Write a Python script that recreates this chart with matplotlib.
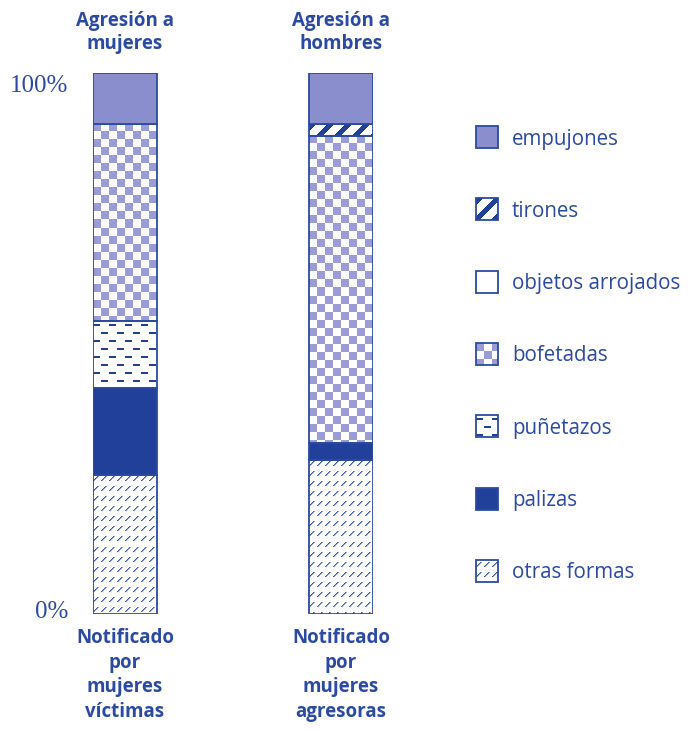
import numpy as np
import matplotlib.pyplot as plt
from matplotlib.colors import to_rgba
from matplotlib.patches import Rectangle

# datos (en % de cada barra, de abajo hacia arriba)
categorias = ['otras formas', 'palizas', 'puñetazos', 'bofetadas',
              'objetos arrojados', 'tirones', 'empujones']
victimas = [25.7, 16.1, 12.3, 36.5, 0.0, 0.0, 9.4]
agresoras = [28.5, 3.1, 0.0, 56.8, 0.0, 2.2, 9.4]
titulos = ['Agresión a\nmujeres', 'Agresión a\nhombres']
notas = ['Notificado\npor\nmujeres\nvíctimas', 'Notificado\npor\nmujeres\nagresoras']
ticks = [100, 0]
tick_labels = ['100%', '0%']

AZUL = '#2b4aa3'
OSCURO = '#21409a'
LILA = '#8a8ecc'
LILA_CL = '#9a9dd5'
TRAZO = '#3f5db5'

W, H = 691, 729
fig = plt.figure(figsize=(W / 100, H / 100), dpi=100)
fuente = 'Open Sans'


def textura(tipo, w, h):
    img = np.ones((h, w, 4))
    r, c = np.mgrid[0:h, 0:w]
    if tipo == 'bofetadas':
        m = ((r // 8) + (c // 8)) % 2 == 0
        img[m] = to_rgba(LILA_CL)
    elif tipo == 'puñetazos':
        k = r // 8
        m = ((r % 8) >= 3) & ((r % 8) <= 4) & (((c + (k % 2) * 8) % 16) < 7)
        img[m] = to_rgba(OSCURO)
    elif tipo == 'otras formas':
        dy = r % 10 - 2
        m = (dy >= 0) & (dy < 5) & ((c % 8) == 4 - dy)
        img[m] = to_rgba(TRAZO)
        m2 = (dy >= 0) & (dy < 5) & ((c % 8) == 5 - dy)
        img[m2] = to_rgba('#8c9fd8')
    elif tipo == 'tirones':
        m = ((c + r) % 18) < 7
        img[m] = to_rgba(OSCURO)
    return img


solidos = {'empujones': LILA, 'palizas': OSCURO, 'objetos arrojados': 'white'}


def rellenar(eje, rect, tipo):
    if tipo in solidos:
        rect.set_facecolor(solidos[tipo])
        return
    rect.set_facecolor('none')
    x0, y0 = rect.get_x(), rect.get_y()
    x1, y1 = x0 + rect.get_width(), y0 + rect.get_height()
    p = eje.transData.transform([[x0, y0], [x1, y1]])
    w = int(round(abs(p[1, 0] - p[0, 0])))
    h = int(round(abs(p[1, 1] - p[0, 1])))
    top, bot = (y1, y0) if p[1, 1] > p[0, 1] else (y0, y1)
    im = eje.imshow(textura(tipo, max(w, 1), max(h, 1)), extent=(x0, x1, bot, top),
                    interpolation='nearest', aspect='auto', zorder=1)
    im.set_clip_path(rect)


ax = fig.add_axes([93 / W, 1 - 614 / H, 280 / W, 541 / H])
x = np.arange(2)
ancho = 0.296
ax.set_xlim(-ancho / 2, 1 + ancho / 2)
ax.set_ylim(0, 100)
ax.set_autoscale_on(False)
ax.axis('off')

base = np.zeros(2)
for i, cat in enumerate(categorias):
    vals = np.array([victimas[i], agresoras[i]])
    barras = ax.bar(x, vals, ancho, bottom=base, facecolor='white',
                    edgecolor=AZUL, linewidth=1.3, zorder=2)
    for b, v in zip(barras, vals):
        if v > 0:
            rellenar(ax, b, cat)
        else:
            b.set_visible(False)
    base += vals

for xi, t in zip(x, titulos):
    ax.annotate(t, (xi, 100), xytext=(0, 14), textcoords='offset points',
                ha='center', va='bottom', fontsize=13.5, fontweight='bold',
                color=AZUL, family=fuente, linespacing=1.14)
for xi, t in zip(x, notas):
    ax.annotate(t, (xi, 0), xytext=(0, -10), textcoords='offset points',
                ha='center', va='top', fontsize=13.5, fontweight='bold',
                color=AZUL, family=fuente, linespacing=1.32)

for tk, lab, dy in zip(ticks, tick_labels, [-9.5, 1.5]):
    ax.annotate(lab, (-ancho / 2, tk), xytext=(-18, dy), textcoords='offset points',
                ha='right', va='center', fontsize=18, color=AZUL,
                family='Liberation Serif')

# leyenda dibujada a mano en pixeles de la figura
lax = fig.add_axes([0, 0, 1, 1])
lax.set_xlim(0, W)
lax.set_ylim(H, 0)
lax.set_autoscale_on(False)
lax.axis('off')
for j, cat in enumerate(categorias[::-1]):
    yc = 137 + j * 72.3
    r = Rectangle((476, yc - 11), 22, 22, facecolor='white', edgecolor=AZUL,
                  linewidth=1.3, zorder=2)
    lax.add_patch(r)
    rellenar(lax, r, cat)
    lax.text(512, yc + 2, cat, ha='left', va='center', fontsize=14.8,
             color=AZUL, family=fuente)

fig.savefig('out.png', dpi=100)
